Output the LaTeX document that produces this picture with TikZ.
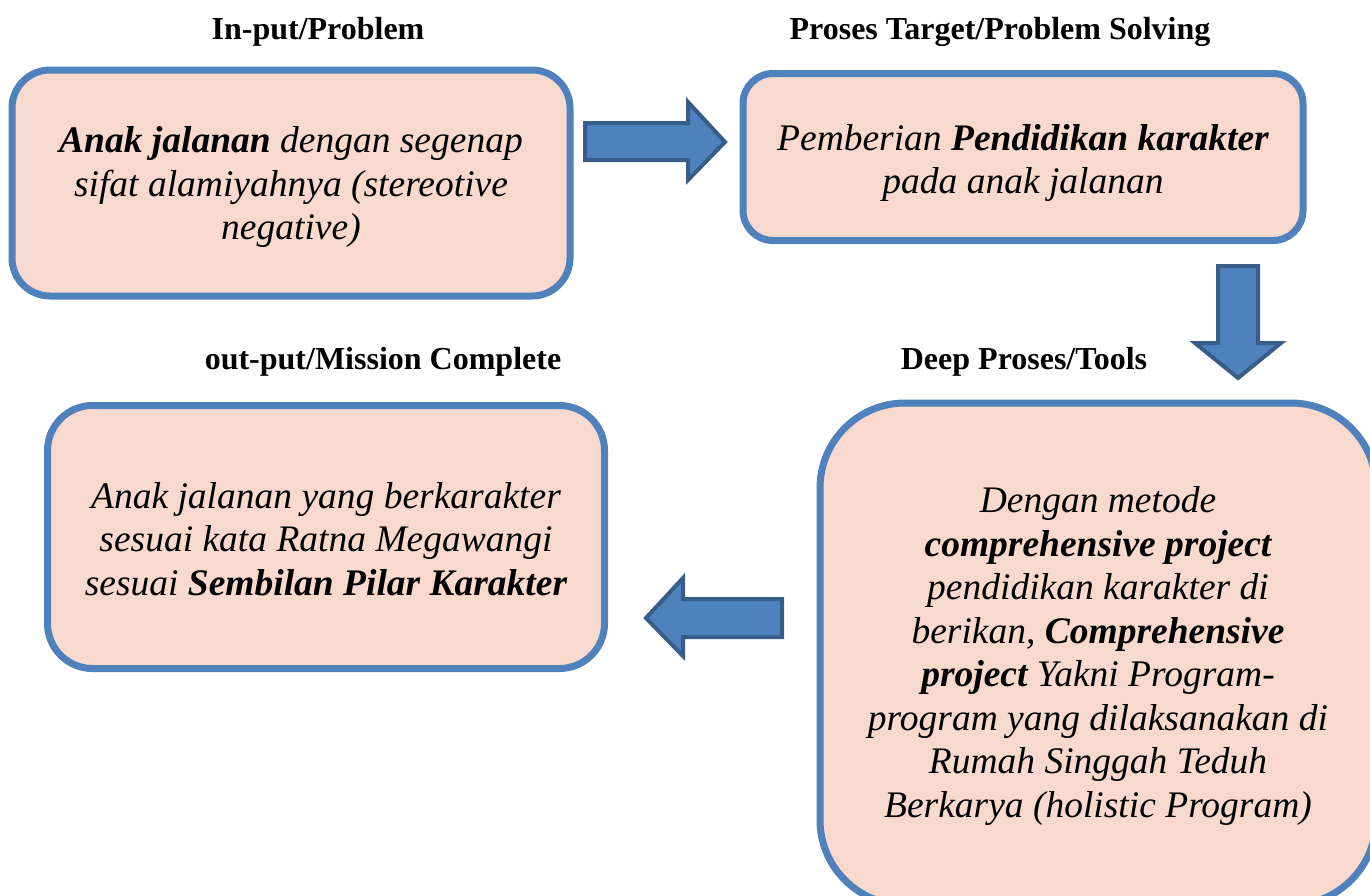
\documentclass[tikz,border=0pt]{standalone}
\usepackage{fontspec}
\setmainfont{LiberationSerif}[Extension=.ttf,UprightFont=*-Regular,BoldFont=*-Bold,ItalicFont=*-Italic,BoldItalicFont=*-BoldItalic]
\definecolor{boxfill}{HTML}{F8D9CE}
\definecolor{boxline}{HTML}{4F81BD}
\definecolor{arrfill}{HTML}{4F81BD}
\definecolor{arrline}{HTML}{385D8A}
\begin{document}
\begin{tikzpicture}[x=1pt,y=-1pt,
  box/.style={draw=boxline,fill=boxfill,line width=7pt,inner sep=0pt},
  boxtext/.style={align=center,font=\fontsize{37.5}{43.5}\selectfont\itshape,inner sep=0pt},
  title/.style={font=\fontsize{32}{36}\selectfont\bfseries,inner sep=0pt},
  blockarrow/.style={draw=arrline,fill=arrfill,line width=4pt,line join=miter}]
\useasboundingbox (0,0) rectangle (1370,895);
\clip (0,0) rectangle (1370,895);
% titles
\node[title] (t1) at (318,32) {In-put/Problem};
\node[title] (t2) at (1000,32) {Proses Target/Problem Solving};
\node[title] (t3) at (383,362) {out-put/Mission Complete};
\node[title] (t4) at (1024,362) {Deep Proses/Tools};
% boxes
\node[box,minimum width=558pt,minimum height=226pt,rounded corners=38pt] (b1) at (291,183) {};
\node[boxtext] (b1t) at (291,187)
  {\textbf{Anak jalanan} dengan segenap\\sifat alamiyahnya (stereotive\\negative)};
\node[box,minimum width=560pt,minimum height=167pt,rounded corners=30pt] (b2) at (1023,157) {};
\node[boxtext] (b2t) at (1023,163)
  {Pemberian \textbf{Pendidikan karakter}\\pada anak jalanan};
\node[box,minimum width=557pt,minimum height=263pt,rounded corners=45pt] (b3) at (326,537) {};
\node[boxtext] (b3t) at (326,539)
  {Anak jalanan yang berkarakter\\sesuai kata Ratna Megawangi\\sesuai \textbf{Sembilan Pilar Karakter}};
\node[box,minimum width=556pt,minimum height=502pt,rounded corners=85pt] (b4) at (1098,654) {};
\node[boxtext] (b4t) at (1098,656)
  {Dengan metode\\\textbf{comprehensive project}\\pendidikan karakter di\\berikan, \textbf{Comprehensive}\\\textbf{project} Yakni Program-\\program yang dilaksanakan di\\Rumah Singgah Teduh\\Berkarya (holistic Program)};
% block arrows
\draw[blockarrow] (585,123) -- (688,123) -- (688,102) -- (725,142) -- (688,180) -- (688,160) -- (585,160) -- cycle;
\draw[blockarrow] (1218,266) -- (1258,266) -- (1258,343) -- (1281,343) -- (1238,378) -- (1195,343) -- (1218,343) -- cycle;
\draw[blockarrow] (782,599) -- (683,599) -- (683,578) -- (646,618) -- (683,656) -- (683,637) -- (782,637) -- cycle;
\end{tikzpicture}
\end{document}
